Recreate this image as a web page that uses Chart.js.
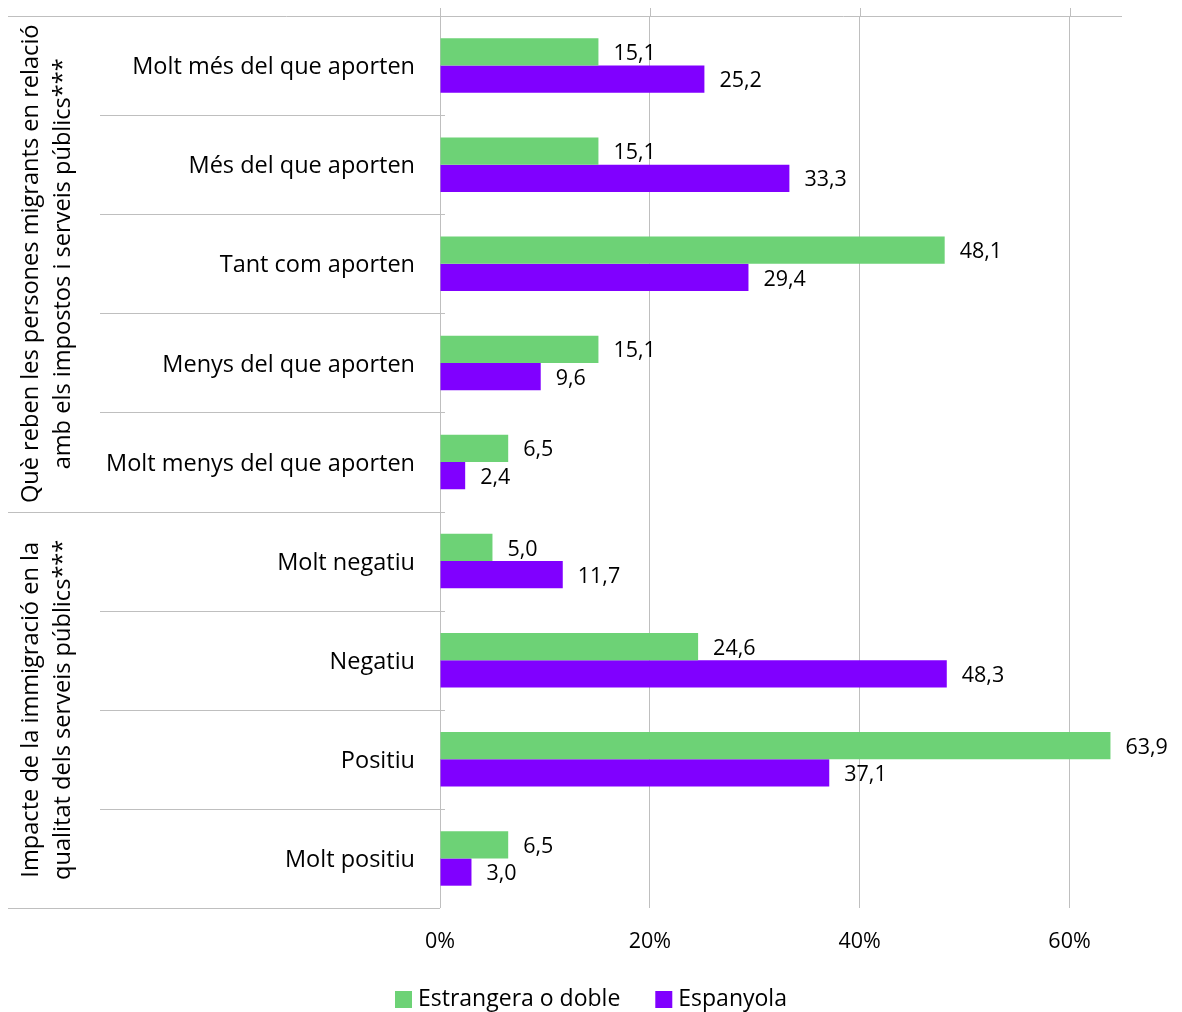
<!DOCTYPE html>
<html>
<head>
<meta charset="utf-8">
<script src="https://cdn.jsdelivr.net/npm/chart.js@4.4.1/dist/chart.umd.min.js"></script>
<style>
html,body{margin:0;padding:0;background:#fff;}
#wrap{width:1182px;height:1012px;position:relative;}
</style>
</head>
<body>
<div id="wrap"><canvas id="c" width="1182" height="1012"></canvas></div>
<script>
const categories = [
  "Molt més del que aporten",
  "Més del que aporten",
  "Tant com aporten",
  "Menys del que aporten",
  "Molt menys del que aporten",
  "Molt negatiu",
  "Negatiu",
  "Positiu",
  "Molt positiu"
];
const seriesNames = ["Estrangera o doble", "Espanyola"];
const estrangera = [15.1, 15.1, 48.1, 15.1, 6.5, 5.0, 24.6, 63.9, 6.5];
const espanyola = [25.2, 33.3, 29.4, 9.6, 2.4, 11.7, 48.3, 37.1, 3.0];
const xTicks = [0, 20, 40, 60];
const groups = [
  {lines: ["Què reben les persones migrants en relació", "amb els impostos i serveis públics***"], from: 0, to: 4},
  {lines: ["Impacte de la immigració en la", "qualitat dels serveis públics***"], from: 5, to: 8}
];
const colors = ['#6dd276', '#8000ff'];

const FONT = "'Open Sans', sans-serif";
const LINE = "#bfbfbf";

const decorPlugin = {
  id: 'decor',
  afterDraw(chart) {
    const ctx = chart.ctx;
    const ca = chart.chartArea;
    const x = chart.scales.x;
    const n = categories.length;
    const band = (ca.bottom - ca.top) / n;
    ctx.save();
    ctx.strokeStyle = LINE;
    ctx.lineWidth = 1;
    ctx.beginPath();
    ctx.moveTo(8, Math.round(ca.top) + 0.5);
    ctx.lineTo(ca.right, Math.round(ca.top) + 0.5);
    ctx.stroke();
    xTicks.forEach(v => {
      const px = Math.round(x.getPixelForValue(v)) + 0.5;
      ctx.beginPath();
      ctx.moveTo(px, ca.top - 8);
      ctx.lineTo(px, ca.top);
      ctx.stroke();
    });
    ctx.beginPath();
    ctx.moveTo(8, Math.round(ca.bottom) + 0.5);
    ctx.lineTo(ca.left, Math.round(ca.bottom) + 0.5);
    ctx.stroke();
    for (let i = 1; i < n; i++) {
      const yy = Math.round(ca.top + band * i) + 0.5;
      const isGroup = groups.some(g => g.from === i);
      ctx.beginPath();
      ctx.moveTo(isGroup ? 8 : 100, yy);
      ctx.lineTo(ca.left + 5, yy);
      ctx.stroke();
    }
    // group labels
    ctx.fillStyle = '#000';
    ctx.font = "23.6px " + FONT;
    ctx.textAlign = 'center';
    ctx.textBaseline = 'middle';
    groups.forEach(g => {
      const cy = ca.top + band * g.from + band * (g.to - g.from + 1) / 2;
      const xs = [31, 63];
      g.lines.forEach((t, k) => {
        ctx.save();
        ctx.translate(xs[k], cy);
        ctx.rotate(-Math.PI / 2);
        ctx.fillText(t, 0, 0);
        ctx.restore();
      });
    });
    // data labels
    ctx.font = "21.5px " + FONT;
    ctx.textAlign = 'left';
    chart.data.datasets.forEach((ds, di) => {
      const meta = chart.getDatasetMeta(di);
      meta.data.forEach((bar, i) => {
        const txt = ds.data[i].toFixed(1).replace('.', ',');
        ctx.fillText(txt, bar.x + 15, bar.y + 2);
      });
    });
    // legend
    ctx.font = "23px " + FONT;
    const box = 17, gap = 6, sep = 35;
    const widths = seriesNames.map(s => ctx.measureText(s).width);
    const total = widths.reduce((a, w) => a + box + gap + w, 0) + sep * (seriesNames.length - 1);
    let lx = Math.round(chart.width / 2 - total / 2);
    const ly = 999;
    seriesNames.forEach((s, i) => {
      ctx.fillStyle = colors[i];
      ctx.fillRect(lx, ly - 8, box, box);
      ctx.fillStyle = '#000';
      ctx.fillText(s, lx + box + gap, ly);
      lx += box + gap + widths[i] + sep;
    });
    ctx.restore();
  }
};

new Chart(document.getElementById('c'), {
  type: 'bar',
  data: {
    labels: categories,
    datasets: [
      {label: seriesNames[0], data: estrangera, backgroundColor: colors[0], categoryPercentage: 0.55, barPercentage: 1.0},
      {label: seriesNames[1], data: espanyola, backgroundColor: colors[1], categoryPercentage: 0.55, barPercentage: 1.0}
    ]
  },
  options: {
    indexAxis: 'y',
    responsive: false,
    animation: false,
    devicePixelRatio: 1,
    layout: {padding: {top: 16, left: 0, right: 60, bottom: 44}},
    plugins: {
      legend: {display: false},
      tooltip: {enabled: false}
    },
    scales: {
      x: {
        position: 'bottom',
        min: 0,
        max: 65,
        afterBuildTicks(scale) { scale.ticks = xTicks.map(v => ({value: v})); },
        afterFit(scale) { scale.height = 60; scale.paddingLeft = 0; scale.paddingRight = 0; },
        grid: {color: LINE, lineWidth: 1, drawTicks: false},
        border: {display: false},
        ticks: {
          color: '#000',
          font: {family: FONT, size: 21.5},
          padding: 21,
          callback: v => v + '%'
        }
      },
      y: {
        afterFit(scale) { scale.width = 440; scale.paddingTop = 0; scale.paddingBottom = 0; },
        grid: {display: false, drawTicks: false},
        border: {display: false},
        ticks: {
          color: '#000',
          font: {family: FONT, size: 23.5},
          padding: 25,
          labelOffset: 2,
          autoSkip: false
        }
      }
    }
  },
  plugins: [decorPlugin]
});
</script>
</body>
</html>
